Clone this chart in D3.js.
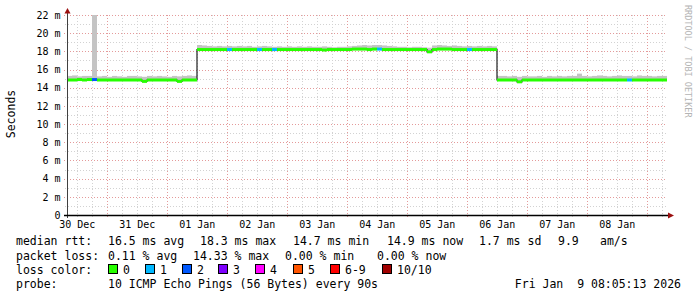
<!DOCTYPE html>
<html>
<head>
<meta charset="utf-8">
<script src="https://cdn.jsdelivr.net/npm/d3@7/dist/d3.min.js"></script>
<style>
  body { margin: 0; background: #ffffff; }
  text { font-family: "DejaVu Sans Mono", monospace; white-space: pre; }
</style>
</head>
<body>
<script>
// time window of the graph (10 days, 2 hour steps)
var startTime = new Date(2025, 11, 30, 8, 5, 13);
var endTime = new Date(2026, 0, 9, 8, 5, 13);
var stepHours = 2;

// median rtt per step (ms)
var median = [
  14.85, 14.85, 14.9, 14.85, 14.9, 14.9, 14.85, 14.85, 14.85, 14.85,
  14.85, 14.85, 14.85, 14.85, 14.85, 14.7, 14.85, 14.85, 14.85, 14.85,
  14.85, 14.85, 14.7, 14.85, 14.85, 14.85, 18.2, 18.2, 18.2, 18.2,
  18.2, 18.2, 18.2, 18.2, 18.2, 18.2, 18.2, 18.2, 18.2, 18.2,
  18.2, 18.2, 18.2, 18.2, 18.2, 18.2, 18.2, 18.2, 18.2, 18.2,
  18.2, 18.15, 18.2, 18.2, 18.2, 18.2, 18.2, 18.25, 18.25, 18.25,
  18.2, 18.25, 18.25, 18.2, 18.2, 18.2, 18.2, 18.2, 18.2, 18.2,
  18.2, 18.2, 17.95, 18.2, 18.25, 18.25, 18.25, 18.2, 18.2, 18.2,
  18.2, 18.2, 18.2, 18.2, 18.2, 18.2, 14.85, 14.85, 14.85, 14.85,
  14.65, 14.85, 14.85, 14.85, 14.85, 14.85, 14.85, 14.85, 14.85, 14.85,
  14.85, 14.85, 14.85, 14.85, 14.85, 14.85, 14.85, 14.85, 14.85, 14.85,
  14.85, 14.85, 14.85, 14.85, 14.85, 14.85, 14.85, 14.85, 14.85, 14.85
];

// fastest ping per step (ms)
var smokeLo = [
  14.75, 14.75, 14.8, 14.75, 14.8, 14.8, 14.75, 14.75, 14.75, 14.75,
  14.75, 14.75, 14.75, 14.75, 14.75, 14.6, 14.75, 14.75, 14.75, 14.75,
  14.75, 14.75, 14.6, 14.75, 14.75, 14.75, 18.1, 18.1, 18.1, 18.1,
  18.1, 18.1, 18.1, 18.1, 18.1, 18.1, 18.1, 18.1, 18.1, 18.1,
  18.1, 18.1, 18.1, 18.1, 18.1, 18.1, 18.1, 18.1, 18.1, 18.1,
  18.1, 18.05, 18.1, 18.1, 18.1, 18.1, 18.1, 18.15, 18.15, 18.15,
  18.1, 18.15, 18.15, 18.1, 18.1, 18.1, 18.1, 18.1, 18.1, 18.1,
  18.1, 18.1, 17.85, 18.1, 18.15, 18.15, 18.15, 18.1, 18.1, 18.1,
  18.1, 18.1, 18.1, 18.1, 18.1, 18.1, 14.75, 14.75, 14.75, 14.75,
  14.55, 14.75, 14.75, 14.75, 14.75, 14.75, 14.75, 14.75, 14.75, 14.75,
  14.75, 14.75, 14.75, 14.75, 14.75, 14.75, 14.75, 14.75, 14.75, 14.75,
  14.75, 14.75, 14.75, 14.75, 14.75, 14.75, 14.75, 14.75, 14.75, 14.75
];

// slowest ping per step (ms)
var smokeHi = [
  15.3, 15.35, 15.25, 15.3, 15.3, 22.5, 15.25, 15.3, 15.2, 15.3,
  15.25, 15.2, 15.3, 15.3, 15.25, 15.2, 15.3, 15.25, 15.3, 15.25,
  15.2, 15.3, 15.25, 15.3, 15.35, 15.3, 18.7, 18.65, 18.6, 18.55,
  18.6, 18.55, 18.6, 18.55, 18.6, 18.55, 18.6, 18.5, 18.55, 18.6,
  18.55, 18.5, 18.55, 18.5, 18.55, 18.5, 18.55, 18.5, 18.55, 18.5,
  18.5, 18.55, 18.5, 18.45, 18.5, 18.5, 18.55, 18.6, 18.65, 18.7,
  18.65, 18.7, 18.7, 18.65, 18.6, 18.55, 18.5, 18.5, 18.45, 18.5,
  18.5, 18.45, 18.4, 18.65, 18.7, 18.65, 18.6, 18.65, 18.6, 18.55,
  18.6, 18.55, 18.6, 18.55, 18.6, 18.55, 15.3, 15.3, 15.25, 15.3,
  15.2, 15.3, 15.25, 15.25, 15.3, 15.2, 15.3, 15.25, 15.3, 15.25,
  15.3, 15.3, 15.55, 15.3, 15.25, 15.3, 15.35, 15.3, 15.25, 15.3,
  15.35, 15.3, 15.3, 15.25, 15.35, 15.3, 15.3, 15.25, 15.3, 15.3
];

// lost pings (out of 10) per step
var loss = [
  0, 0, 0, 0, 0, 2, 0, 0, 0, 0,
  0, 0, 0, 0, 0, 0, 0, 0, 0, 0,
  0, 0, 0, 0, 0, 0, 0, 0, 0, 0,
  0, 0, 1, 0, 0, 0, 0, 0, 1, 0,
  0, 1, 0, 0, 0, 0, 0, 0, 0, 0,
  0, 0, 0, 0, 0, 0, 0, 0, 0, 0,
  0, 0, 1, 0, 0, 0, 0, 0, 0, 0,
  0, 0, 0, 0, 0, 0, 0, 0, 0, 0,
  1, 0, 0, 0, 0, 0, 0, 0, 0, 0,
  0, 0, 0, 0, 0, 0, 0, 0, 0, 0,
  0, 0, 0, 0, 0, 0, 0, 0, 0, 0,
  0, 0, 1, 0, 0, 0, 0, 0, 0, 0
];

var lossColors = ["#26ff00", "#00b8ff", "#0059ff", "#7e00ff", "#ff00ff", "#ff5500", "#ff0000", "#a10000"];
var lossLabels = ["0", "1", "2", "3", "4", "5", "6-9", "10/10"];
var yTicks = [0, 2, 4, 6, 8, 10, 12, 14, 16, 18, 20, 22];
var yMinor = [1, 3, 5, 7, 9, 11, 13, 15, 17, 19, 21];

var rttLabels = ["median rtt:", "16.5 ms avg", "18.3 ms max", "14.7 ms min", "14.9 ms now", "1.7 ms sd", "9.9", "am/s"];
var lossStats = ["packet loss:", "0.11 % avg", "14.33 % max", "0.00 % min", "0.00 % now"];
var probeText = "10 ICMP Echo Pings (56 Bytes) every 90s";
var stampText = "Fri Jan  9 08:05:13 2026";

var w = 697, h = 297;
var pLeft = 67, pRight = 667, pTop = 15, pBottom = 215;

var svg = d3.select("body").append("svg")
  .attr("width", w)
  .attr("height", h);

var x = d3.scaleTime().domain([startTime, endTime]).range([pLeft, pRight]);
var y = d3.scaleLinear().domain([0, 22]).range([pBottom, pTop]).clamp(true);

function lossIndex(l) {
  if (l >= 10) return 7;
  if (l >= 6) return 6;
  return l;
}

var gridMinor = "#d2d2d2", gridMajor = "#e49a9a";

//minor grid
var sixHours = d3.timeHour.every(6).range(startTime, endTime).filter(function(d) { return d.getHours() != 0; });
svg.selectAll(".vminor").data(sixHours).enter().append("line")
  .attr("x1", function(d) { return Math.round(x(d)) + 0.5; })
  .attr("x2", function(d) { return Math.round(x(d)) + 0.5; })
  .attr("y1", pTop).attr("y2", pBottom + 2)
  .attr("stroke", gridMinor).attr("stroke-dasharray", "1,2");

svg.selectAll(".hminor").data(yMinor).enter().append("line")
  .attr("x1", pLeft - 2).attr("x2", pRight)
  .attr("y1", function(d) { return Math.round(y(d)) + 0.5; })
  .attr("y2", function(d) { return Math.round(y(d)) + 0.5; })
  .attr("stroke", gridMinor).attr("stroke-dasharray", "1,2");

//major grid
var days = d3.timeDay.range(startTime, endTime);
svg.selectAll(".vmajor").data(days).enter().append("line")
  .attr("x1", function(d) { return Math.round(x(d)) + 0.5; })
  .attr("x2", function(d) { return Math.round(x(d)) + 0.5; })
  .attr("y1", pTop).attr("y2", pBottom + 3)
  .attr("stroke", gridMajor).attr("stroke-dasharray", "1,2");

svg.selectAll(".hmajor").data(yTicks.slice(1)).enter().append("line")
  .attr("x1", pLeft - 3).attr("x2", pRight)
  .attr("y1", function(d) { return Math.round(y(d)) + 0.5; })
  .attr("y2", function(d) { return Math.round(y(d)) + 0.5; })
  .attr("stroke", gridMajor).attr("stroke-dasharray", "1,2");

// bins
var bins = median.map(function(m, i) {
  var t0 = d3.timeHour.offset(startTime, i * stepHours);
  var t1 = d3.timeHour.offset(startTime, (i + 1) * stepHours);
  return { t0: t0, t1: t1, med: m, lo: smokeLo[i], hi: smokeHi[i], loss: loss[i] };
});

//smoke
svg.selectAll(".smoke").data(bins).enter().append("rect")
  .attr("x", function(d) { return x(d.t0); })
  .attr("width", function(d) { return x(d.t1) - x(d.t0); })
  .attr("y", function(d) { return y(d.hi); })
  .attr("height", function(d) { return y(d.lo) - y(d.hi); })
  .attr("fill", "#c4c4c4");

//median line (thin dark step line)
var pts = bins.map(function(d) { return [d.t0, d.med]; });
pts.push([bins[bins.length - 1].t1, bins[bins.length - 1].med]);
svg.append("path")
  .attr("d", d3.line().curve(d3.curveStepAfter)
    .x(function(d) { return x(d[0]); })
    .y(function(d) { return y(d[1]); })(pts))
  .attr("fill", "none")
  .attr("stroke", "#202020")
  .attr("stroke-width", 1.2);

//median coloured by loss
svg.selectAll(".med").data(bins).enter().append("rect")
  .attr("x", function(d) { return x(d.t0); })
  .attr("width", function(d) { return x(d.t1) - x(d.t0); })
  .attr("y", function(d) { return y(d.med) - 1.5; })
  .attr("height", 3)
  .attr("fill", function(d) { return lossColors[lossIndex(d.loss)]; });

// axes
var yAxis = d3.axisLeft(y).tickValues(yTicks).tickSize(0).tickPadding(6)
  .tickFormat(function(d) { return d == 0 ? "0" : d + " m"; });
var gy = svg.append("g").attr("transform", "translate(" + pLeft + ",0)").call(yAxis);
gy.select(".domain").remove();
gy.selectAll("text")
  .attr("font-family", "DejaVu Sans Mono")
  .attr("font-size", "10px")
  .attr("fill", "#000")
  .attr("x", -6.5);

// day labels sit at noon, between the midnight lines
var noons = days.map(function(d) { return d3.timeHour.offset(d, -12); })
  .filter(function(d) { return d >= startTime && d <= endTime; });
var xAxis = d3.axisBottom(x).tickValues(noons).tickSize(0).tickPadding(6)
  .tickFormat(d3.timeFormat("%d %b"));
var gx = svg.append("g").attr("transform", "translate(0," + pBottom + ")").call(xAxis);
gx.select(".domain").remove();
gx.selectAll("text")
  .attr("font-family", "DejaVu Sans Mono")
  .attr("font-size", "10px")
  .attr("fill", "#000")
  .attr("y", 6)
  .attr("dy", "0.71em");

//axis lines and arrows
svg.append("line").attr("x1", pLeft + 0.5).attr("x2", pLeft + 0.5).attr("y1", pBottom + 3).attr("y2", 11)
  .attr("stroke", "#404040");
svg.append("line").attr("x1", pLeft - 3).attr("x2", 670).attr("y1", pBottom + 0.5).attr("y2", pBottom + 0.5)
  .attr("stroke", "#000").attr("stroke-width", 1.3);
svg.append("path").attr("d", "M64.5,13.5 L70.5,13.5 L67.5,8 Z").attr("fill", "#9b1010");
svg.append("path").attr("d", "M668,212.5 L668,218.5 L674,215.5 Z").attr("fill", "#9b1010");

//vertical label
svg.append("text")
  .attr("transform", "translate(15,114) rotate(-90)")
  .attr("text-anchor", "middle")
  .attr("font-size", "11.5px")
  .text("Seconds");

//watermark
svg.append("text")
  .attr("transform", "translate(685,5) rotate(90)")
  .attr("font-size", "8.5px")
  .attr("fill", "#b4b4b4")
  .text("RRDTOOL / TOBI OETIKER");

// legend
var legendFont = "11.5px";
var rttX = [16, 108, 200, 293, 387, 479, 558, 600];
svg.selectAll(".rtt").data(rttLabels).enter().append("text")
  .attr("x", function(d, i) { return rttX[i]; })
  .attr("y", 245)
  .attr("font-size", legendFont)
  .text(function(d) { return d; });

var lossX = [16, 108, 193, 285, 377];
svg.selectAll(".pl").data(lossStats).enter().append("text")
  .attr("x", function(d, i) { return lossX[i]; })
  .attr("y", 259.5)
  .attr("font-size", legendFont)
  .text(function(d) { return d; });

svg.append("text").attr("x", 16).attr("y", 273.5).attr("font-size", legendFont).text("loss color:");
var boxX = [108, 145, 182, 218, 255, 293, 330, 382];
svg.selectAll(".lbox").data(lossColors).enter().append("rect")
  .attr("x", function(d, i) { return boxX[i] + 0.5; })
  .attr("y", 264.5)
  .attr("width", 9).attr("height", 9)
  .attr("fill", function(d) { return d; })
  .attr("stroke", "#000");
svg.selectAll(".ltxt").data(lossLabels).enter().append("text")
  .attr("x", function(d, i) { return boxX[i] + 15; })
  .attr("y", 273.5)
  .attr("font-size", legendFont)
  .text(function(d) { return d; });

svg.append("text").attr("x", 16).attr("y", 287.5).attr("font-size", legendFont).text("probe:");
svg.append("text").attr("x", 108).attr("y", 287.5).attr("font-size", legendFont).text(probeText);
svg.append("text").attr("x", 681).attr("y", 287.5).attr("text-anchor", "end").attr("font-size", legendFont).text(stampText);
</script>
</body>
</html>
